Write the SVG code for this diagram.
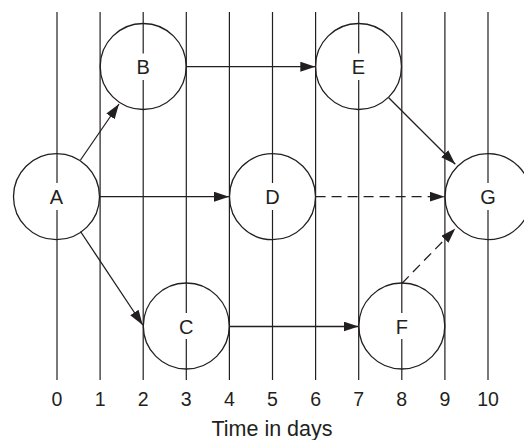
<svg xmlns="http://www.w3.org/2000/svg" width="524" height="440" viewBox="0 0 524 440">
<defs>
<style>
.grid line{stroke:#231f20;stroke-width:1.2}
.node circle{fill:none;stroke:#231f20;stroke-width:1.3}
.node rect{fill:#fff}
.lbl{font-family:"Liberation Sans",Arial,sans-serif;font-size:20px;fill:#231f20;text-anchor:middle}
.tick{font-family:"Liberation Sans",Arial,sans-serif;font-size:19.5px;fill:#231f20;text-anchor:middle}
.cap{font-family:"Liberation Sans",Arial,sans-serif;font-size:21.5px;fill:#231f20;text-anchor:middle}
.edge{fill:none;stroke:#231f20;stroke-width:1.3}
.dash{stroke-dasharray:10 6}
</style>
<marker id="ah" markerUnits="userSpaceOnUse" markerWidth="16" markerHeight="11" refX="15" refY="5" orient="auto">
<path d="M0,0 L15,5 L0,10 z" fill="#231f20"/>
</marker>
</defs>
<rect width="524" height="440" fill="#fff"/>
<g id="grid" class="grid">
<line x1="57" y1="12" x2="57" y2="380"/>
<line x1="100.1" y1="12" x2="100.1" y2="380"/>
<line x1="143.2" y1="12" x2="143.2" y2="380"/>
<line x1="186.3" y1="12" x2="186.3" y2="380"/>
<line x1="229.4" y1="12" x2="229.4" y2="380"/>
<line x1="272.5" y1="12" x2="272.5" y2="380"/>
<line x1="315.6" y1="12" x2="315.6" y2="380"/>
<line x1="358.7" y1="12" x2="358.7" y2="380"/>
<line x1="401.8" y1="12" x2="401.8" y2="380"/>
<line x1="444.9" y1="12" x2="444.9" y2="380"/>
<line x1="488" y1="12" x2="488" y2="380"/>
</g>
<g id="connectors">
<line class="edge" x1="80.5" y1="160" x2="119" y2="104" marker-end="url(#ah)"/>
<line class="edge" x1="99.5" y1="196.7" x2="229" y2="196.7" marker-end="url(#ah)"/>
<line class="edge" x1="80.5" y1="231.5" x2="142.7" y2="325" marker-end="url(#ah)"/>
<line class="edge" x1="186.3" y1="66.7" x2="315.3" y2="66.7" marker-end="url(#ah)"/>
<line class="edge" x1="388.7" y1="97.7" x2="455.3" y2="164.3" marker-end="url(#ah)"/>
<line class="edge dash" x1="315.6" y1="196.7" x2="444.7" y2="196.7" marker-end="url(#ah)"/>
<line class="edge" x1="229.4" y1="326.5" x2="358.5" y2="326.5" marker-end="url(#ah)"/>
<line class="edge dash" x1="401.8" y1="283.5" x2="455.3" y2="228.5" marker-end="url(#ah)"/>
</g>
<g id="node-A" class="node"><circle cx="56.5" cy="196.7" r="43"/><rect x="49" y="183" width="16" height="27"/><text class="lbl" x="56.5" y="204">A</text></g>
<g id="node-B" class="node"><circle cx="143.2" cy="66.5" r="43"/><rect x="135" y="53.5" width="16" height="26.5"/><text class="lbl" x="143.2" y="74">B</text></g>
<g id="node-C" class="node"><circle cx="186.3" cy="326" r="43"/><rect x="178" y="313" width="16" height="26"/><text class="lbl" x="186.3" y="333.5">C</text></g>
<g id="node-D" class="node"><circle cx="272.5" cy="196.7" r="43"/><rect x="264" y="183" width="17" height="27"/><text class="lbl" x="272.5" y="204">D</text></g>
<g id="node-E" class="node"><circle cx="358.5" cy="66.5" r="43"/><rect x="350" y="53.5" width="17" height="26.5"/><text class="lbl" x="358.5" y="74">E</text></g>
<g id="node-F" class="node"><circle cx="401.8" cy="326" r="43"/><rect x="394" y="313" width="16" height="26"/><text class="lbl" x="401.8" y="333.5">F</text></g>
<g id="node-G" class="node"><circle cx="488" cy="196.7" r="43"/><rect x="479" y="183" width="18" height="27"/><text class="lbl" x="488" y="204">G</text></g>
<g id="axis">
<text class="tick" x="57" y="406">0</text>
<text class="tick" x="100.1" y="406">1</text>
<text class="tick" x="143.2" y="406">2</text>
<text class="tick" x="186.3" y="406">3</text>
<text class="tick" x="229.4" y="406">4</text>
<text class="tick" x="272.5" y="406">5</text>
<text class="tick" x="315.6" y="406">6</text>
<text class="tick" x="358.7" y="406">7</text>
<text class="tick" x="401.8" y="406">8</text>
<text class="tick" x="444.9" y="406">9</text>
<text class="tick" x="488" y="406">10</text>
<text class="cap" x="272" y="436">Time in days</text>
</g>
</svg>
